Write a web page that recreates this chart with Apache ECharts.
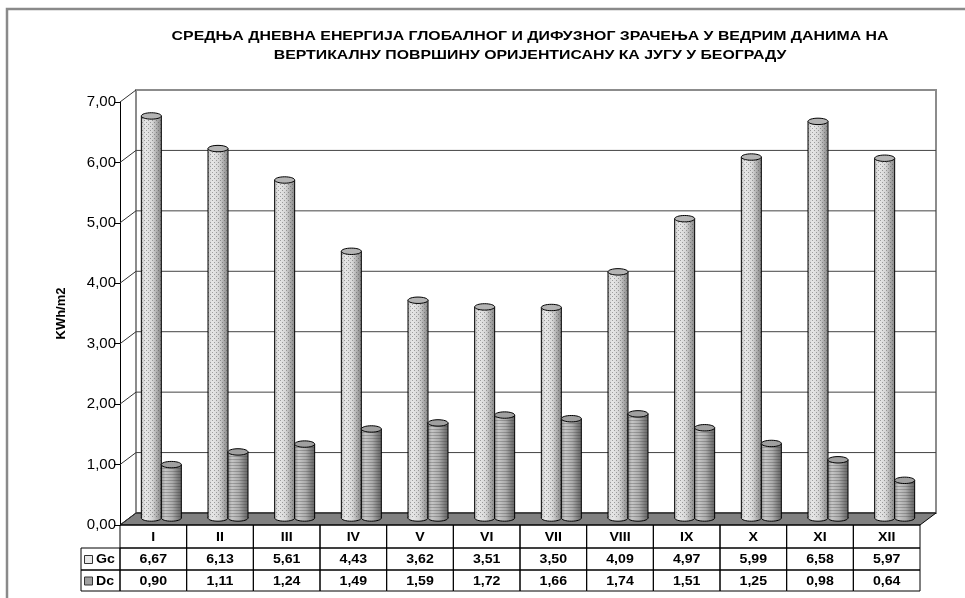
<!DOCTYPE html>
<html>
<head>
<meta charset="utf-8">
<script src="https://cdn.jsdelivr.net/npm/echarts@6/dist/echarts.min.js"></script>
<style>
html, body { margin: 0; padding: 0; background: #fff; }
#main { width: 965px; height: 598px; }
</style>
</head>
<body>
<div id="main"></div>
<script>
// 數據
const months = ['I', 'II', 'III', 'IV', 'V', 'VI', 'VII', 'VIII', 'IX', 'X', 'XI', 'XII'];
const gcValues = [6.67, 6.13, 5.61, 4.43, 3.62, 3.51, 3.50, 4.09, 4.97, 5.99, 6.58, 5.97];
const dcValues = [0.90, 1.11, 1.24, 1.49, 1.59, 1.72, 1.66, 1.74, 1.51, 1.25, 0.98, 0.64];
const seriesNames = ['Gc', 'Dc'];
const yTicks = [0, 1, 2, 3, 4, 5, 6, 7];
const chartTitle = 'СРЕДЊА ДНЕВНА ЕНЕРГИЈА ГЛОБАЛНОГ И ДИФУЗНОГ ЗРАЧЕЊА У ВЕДРИМ ДАНИМА НА\nВЕРТИКАЛНУ ПОВРШИНУ ОРИЈЕНТИСАНУ КА ЈУГУ У БЕОГРАДУ';
const yAxisName = 'KWh/m2';

const myChart = echarts.init(document.getElementById('main'));
const FONT = '"Liberation Sans", Arial, sans-serif';

// 3D 深度偏移
const DX = 16;
const DY = -12;

const fmt = v => v.toFixed(2).replace('.', ',');

// 紋理
function makePattern(size, draw) {
    const c = document.createElement('canvas');
    c.width = c.height = size;
    draw(c.getContext('2d'));
    return c;
}
const dotPattern = makePattern(4, ctx => {
    ctx.fillStyle = 'rgba(70,70,70,0.45)';
    ctx.fillRect(0, 0, 1, 1);
    ctx.fillRect(2, 2, 1, 1);
});
const stripePattern = makePattern(3, ctx => {
    ctx.fillStyle = 'rgba(50,50,50,0.28)';
    ctx.fillRect(0, 0, 3, 1);
});

const gcBody = {
    type: 'linear', x: 0, y: 0, x2: 1, y2: 0,
    colorStops: [
        { offset: 0, color: '#c4c4c4' },
        { offset: 0.2, color: '#e8e8e8' },
        { offset: 0.55, color: '#d6d6d6' },
        { offset: 0.85, color: '#a0a0a0' },
        { offset: 1, color: '#8a8a8a' }
    ]
};
const dcBody = {
    type: 'linear', x: 0, y: 0, x2: 1, y2: 0,
    colorStops: [
        { offset: 0, color: '#9a9a9a' },
        { offset: 0.2, color: '#c6c6c6' },
        { offset: 0.55, color: '#acacac' },
        { offset: 0.85, color: '#7a7a7a' },
        { offset: 1, color: '#666666' }
    ]
};

// 牆面與地板
function renderFrame(params, api) {
    const cs = params.coordSys;
    const v = api.value(1);
    const y = api.coord([0, v])[1];
    const x0 = cs.x;
    const x1 = cs.x + cs.width;
    const children = [];
    if (params.dataIndex === 0) {
        children.push({
            type: 'rect',
            shape: { x: x0 + DX, y: cs.y + DY, width: cs.width, height: cs.height },
            style: { fill: '#fff', stroke: '#8c8c8c', lineWidth: 2 }
        });
        children.push({
            type: 'polygon',
            shape: { points: [[x0, y], [x1, y], [x1 + DX, y + DY], [x0 + DX, y + DY]] },
            style: { fill: '#808080', stroke: '#000', lineWidth: 1 }
        });
    } else if (v < yTicks[yTicks.length - 1]) {
        children.push({
            type: 'line',
            shape: { x1: x0 + DX, y1: y + DY, x2: x1 + DX, y2: y + DY },
            style: { stroke: '#444', lineWidth: 1 }
        });
    }
    children.push({
        type: 'line',
        shape: { x1: x0, y1: y, x2: x0 + DX, y2: y + DY },
        style: { stroke: '#333', lineWidth: 1 }
    });
    return { type: 'group', children };
}

// 圓柱
function makeCylinder(side, bodyFill, pattern, topFill) {
    return function (params, api) {
        const i = api.value(0);
        const v = api.value(1);
        const base = api.coord([i, 0]);
        const top = api.coord([i, v]);
        const w = api.size([1, 0])[0] * 0.3;
        const ry = 3.2;
        const cx = base[0] + DX / 2 + side * w / 2;
        const xl = cx - w / 2;
        const yb = base[1] + DY / 2 - 1;
        const yt = top[1] + DY / 2;
        return {
            type: 'group',
            children: [
                { type: 'ellipse', shape: { cx, cy: yb, rx: w / 2, ry }, style: { fill: bodyFill, stroke: '#000', lineWidth: 1 } },
                { type: 'rect', shape: { x: xl, y: yt, width: w, height: yb - yt }, style: { fill: bodyFill } },
                { type: 'rect', shape: { x: xl, y: yt, width: w, height: yb - yt }, style: { fill: { image: pattern, repeat: 'repeat' } } },
                { type: 'line', shape: { x1: xl, y1: yt, x2: xl, y2: yb }, style: { stroke: '#000', lineWidth: 1 } },
                { type: 'line', shape: { x1: xl + w, y1: yt, x2: xl + w, y2: yb }, style: { stroke: '#000', lineWidth: 1 } },
                { type: 'ellipse', shape: { cx, cy: yt, rx: w / 2, ry }, style: { fill: topFill, stroke: '#000', lineWidth: 1 } }
            ]
        };
    };
}

// 數據表
function cellText(text, x, y, align) {
    return {
        type: 'text', x, y, scaleX: 1.18,
        style: {
            text, align, verticalAlign: 'middle',
            font: 'bold 12px ' + FONT, fill: '#000'
        }
    };
}

function renderTable(params, api) {
    const i = api.value(0);
    const c = api.coord([i, 0]);
    const bw = api.size([1, 0])[0];
    const xl = c[0] - bw / 2;
    const y0 = c[1];
    const rows = [y0, y0 + 23, y0 + 45, y0 + 66];
    const texts = [months[i], fmt(gcValues[i]), fmt(dcValues[i])];
    const children = [];
    for (let r = 0; r < 3; r++) {
        children.push({
            type: 'rect',
            shape: { x: xl, y: rows[r], width: bw, height: rows[r + 1] - rows[r] },
            style: { fill: 'none', stroke: '#000', lineWidth: 1 }
        });
        children.push(cellText(texts[r], c[0], (rows[r] + rows[r + 1]) / 2 + 1, 'center'));
    }
    if (i === 0) {
        const hx = xl - 39;
        const keyFills = ['#e8e8e8', '#a0a0a0'];
        for (let r = 1; r < 3; r++) {
            const ym = (rows[r] + rows[r + 1]) / 2;
            children.push({
                type: 'rect',
                shape: { x: hx, y: rows[r], width: 39, height: rows[r + 1] - rows[r] },
                style: { fill: 'none', stroke: '#000', lineWidth: 1 }
            });
            children.push({
                type: 'rect',
                shape: { x: hx + 3.5, y: ym - 3.5, width: 8, height: 8 },
                style: { fill: keyFills[r - 1], stroke: '#333', lineWidth: 1 }
            });
            children.push(cellText(seriesNames[r - 1], hx + 15, ym + 1, 'left'));
        }
    }
    return { type: 'group', children };
}

const option = {
    animation: false,
    backgroundColor: '#fff',
    graphic: [
        {
            type: 'rect', z: -10,
            shape: { x: 7, y: 9, width: 1000, height: 1000 },
            style: { fill: 'none', stroke: '#8a8a8a', lineWidth: 2.5 }
        },
        {
            type: 'text',
            x: 530, y: 27, scaleX: 1.22,
            style: {
                text: chartTitle, align: 'center', verticalAlign: 'top',
                font: 'bold 13px ' + FONT, lineHeight: 19, fill: '#000'
            }
        }
    ],
    grid: { left: 120, top: 102, width: 800, height: 423 },
    xAxis: {
        type: 'category',
        data: months,
        axisLine: { show: false },
        axisTick: { show: false },
        axisLabel: { show: false },
        splitLine: { show: false }
    },
    yAxis: {
        type: 'value',
        min: 0,
        max: 7,
        interval: 1,
        name: yAxisName,
        nameLocation: 'middle',
        nameRotate: 90,
        nameGap: 52,
        nameTextStyle: { fontFamily: FONT, fontWeight: 'bold', fontSize: 13, color: '#000' },
        axisLine: { show: true, lineStyle: { color: '#000', width: 1 } },
        axisTick: { show: true, length: 6, lineStyle: { color: '#000' } },
        axisLabel: { fontFamily: FONT, fontSize: 15, color: '#000', margin: 4, formatter: v => fmt(v) },
        splitLine: { show: false }
    },
    series: [
        {
            name: 'frame',
            type: 'custom',
            z: 1,
            clip: false,
            silent: true,
            renderItem: renderFrame,
            encode: { x: 0, y: 1 },
            data: yTicks.map(v => [0, v])
        },
        {
            name: seriesNames[0],
            type: 'custom',
            z: 3,
            clip: false,
            renderItem: makeCylinder(-1, gcBody, dotPattern, '#b4b4b4'),
            encode: { x: 0, y: 1 },
            data: gcValues.map((v, i) => [i, v])
        },
        {
            name: seriesNames[1],
            type: 'custom',
            z: 3,
            clip: false,
            renderItem: makeCylinder(1, dcBody, stripePattern, '#a0a0a0'),
            encode: { x: 0, y: 1 },
            data: dcValues.map((v, i) => [i, v])
        },
        {
            name: 'table',
            type: 'custom',
            z: 2,
            clip: false,
            silent: true,
            renderItem: renderTable,
            encode: { x: 0, y: 1 },
            data: months.map((m, i) => [i, 0])
        }
    ]
};

myChart.setOption(option);

window.addEventListener('resize', function () {
    myChart.resize();
});
</script>
</body>
</html>
